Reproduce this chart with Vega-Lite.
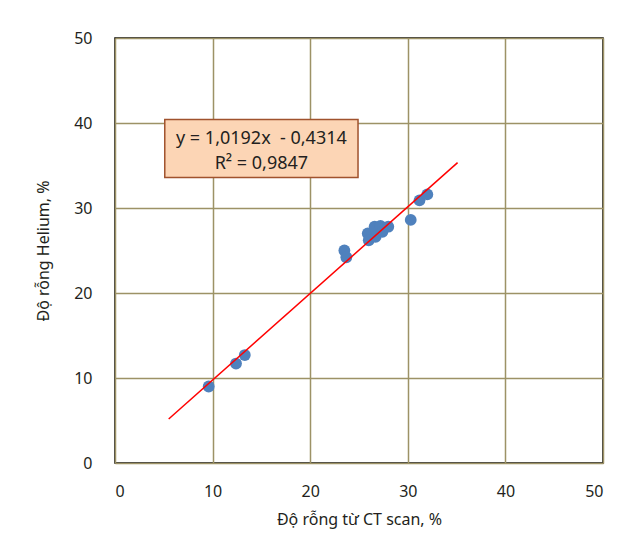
{
  "$schema": "https://vega.github.io/schema/vega-lite/v6.json",
  "width": 488,
  "height": 425,
  "autosize": {"type": "none"},
  "padding": {"left": 115, "top": 38, "right": 32, "bottom": 77},
  "background": "white",
  "config": {
    "view": {"stroke": "black", "strokeWidth": 1.5},
    "font": "Noto Sans",
    "axis": {"labelFont": "Noto Sans", "titleFont": "Noto Sans", "labelFontSize": 16, "titleFontSize": 16, "labelColor": "#231f20", "titleColor": "#231f20", "titleFontWeight": "normal", "gridColor": "#9d9266", "gridWidth": 1.5, "gridOpacity": 1, "domain": false, "ticks": false}
  },
  "datasets": {
    "pts": [
      {"ct": 9.6, "he": 9.0},
      {"ct": 12.4, "he": 11.7},
      {"ct": 13.3, "he": 12.7},
      {"ct": 23.5, "he": 25.0},
      {"ct": 23.7, "he": 24.2},
      {"ct": 25.9, "he": 27.0},
      {"ct": 26.0, "he": 26.2},
      {"ct": 26.6, "he": 27.8},
      {"ct": 26.7, "he": 26.6},
      {"ct": 27.2, "he": 27.9},
      {"ct": 27.4, "he": 27.2},
      {"ct": 28.0, "he": 27.8},
      {"ct": 30.3, "he": 28.6},
      {"ct": 31.2, "he": 30.9},
      {"ct": 32.0, "he": 31.6}
    ],
    "fit": [
      {"ct": 5.5, "he": 5.17},
      {"ct": 35.1, "he": 35.34}
    ],
    "box": [
      {"x1": 5.1, "x2": 24.9, "y1": 33.6, "y2": 40.4}
    ],
    "labels": [
      {"x": 15.0, "y": 38.1, "t": "y = 1,0192x \u00a0- 0,4314"},
      {"x": 15.0, "y": 35.2, "t": "R² = 0,9847"}
    ]
  },
  "layer": [
    {
      "data": {"name": "pts"},
      "mark": {"type": "point", "filled": true, "opacity": 1, "size": 140, "color": "#4f81bd"},
      "encoding": {
        "x": {"field": "ct", "type": "quantitative", "scale": {"domain": [0, 50]}, "axis": {"title": "Độ rỗng từ CT scan, %", "values": [0, 10, 20, 30, 40, 50], "labelPadding": 20, "titlePadding": 12}},
        "y": {"field": "he", "type": "quantitative", "scale": {"domain": [0, 50]}, "axis": {"title": "Độ rỗng Helium, %", "values": [0, 10, 20, 30, 40, 50], "labelPadding": 23, "titlePadding": 22}}
      }
    },
    {
      "data": {"name": "fit"},
      "mark": {"type": "line", "color": "#ff0000", "strokeWidth": 1.5},
      "encoding": {
        "x": {"field": "ct", "type": "quantitative"},
        "y": {"field": "he", "type": "quantitative"}
      }
    },
    {
      "data": {"name": "box"},
      "mark": {"type": "rect", "fill": "#fcd5b5", "stroke": "#a0522d", "strokeWidth": 1.5},
      "encoding": {
        "x": {"field": "x1", "type": "quantitative"},
        "x2": {"field": "x2"},
        "y": {"field": "y1", "type": "quantitative"},
        "y2": {"field": "y2"}
      }
    },
    {
      "data": {"name": "labels"},
      "mark": {"type": "text", "fontSize": 18, "color": "#231f20", "align": "center", "baseline": "middle"},
      "encoding": {
        "x": {"field": "x", "type": "quantitative"},
        "y": {"field": "y", "type": "quantitative"},
        "text": {"field": "t"}
      }
    }
  ]
}
